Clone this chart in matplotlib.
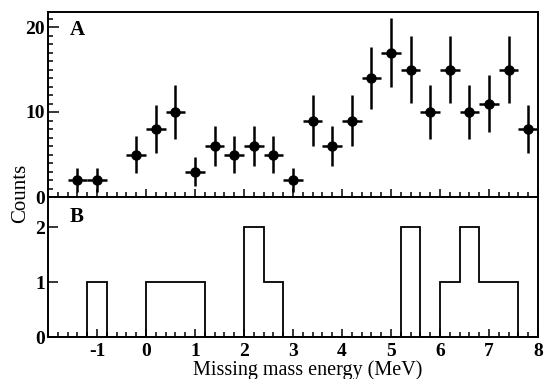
import numpy as np
import matplotlib
matplotlib.use("Agg")
import matplotlib.pyplot as plt
from matplotlib.ticker import MultipleLocator, FixedLocator

plt.rcParams['font.family'] = ['Liberation Serif', 'DejaVu Serif']
plt.rcParams['axes.unicode_minus'] = False

# パネルA: 0.4 MeV ビンごとのカウントと誤差
energy_a = [-1.4, -1.0, -0.2, 0.2, 0.6, 1.0, 1.4, 1.8, 2.2, 2.6, 3.0, 3.4,
            3.8, 4.2, 4.6, 5.0, 5.4, 5.8, 6.2, 6.6, 7.0, 7.4, 7.8]
counts_a = [2, 2, 5, 8, 10, 3, 6, 5, 6, 5, 2, 9,
            6, 9, 14, 17, 15, 10, 15, 10, 11, 15, 8]
err_a = [1.4, 1.4, 2.2, 2.8, 3.2, 1.7, 2.4, 2.2, 2.4, 2.2, 1.4, 3.0,
         2.4, 3.0, 3.7, 4.1, 3.9, 3.2, 3.9, 3.2, 3.3, 3.9, 2.8]
bin_half = 0.2

# パネルB: ヒストグラム (ビン端とカウント)
edges_b = [-2.0, -1.6, -1.2, -0.8, -0.4, 0.0, 0.4, 0.8, 1.2, 1.6, 2.0, 2.4, 2.8,
           3.2, 3.6, 4.0, 4.4, 4.8, 5.2, 5.6, 6.0, 6.4, 6.8, 7.2, 7.6, 8.0]
counts_b = [0, 0, 1, 0, 0, 1, 1, 1, 0, 0, 2, 1, 0,
            0, 0, 0, 0, 0, 2, 0, 1, 2, 1, 1, 0]

xticks = [-1, 0, 1, 2, 3, 4, 5, 6, 7, 8]

W, H = 544, 379
fig = plt.figure(figsize=(W / 100, H / 100), dpi=100)

left, right = 48 / W, 538 / W
ya_top, y_mid, yb_bot = 1 - 11.7 / H, 1 - 197 / H, 1 - 337 / H

ax1 = fig.add_axes([left, y_mid, right - left, ya_top - y_mid])
ax2 = fig.add_axes([left, yb_bot, right - left, y_mid - yb_bot], sharex=ax1)

# --- A ---
ax1.errorbar(energy_a, counts_a, yerr=err_a, xerr=bin_half, fmt='o',
             color='black', ms=6.5, elinewidth=1.8, capsize=0)
ax1.set_ylim(0, 21.8)
ax1.yaxis.set_major_locator(FixedLocator([0, 10, 20]))
ax1.yaxis.set_minor_locator(MultipleLocator(1))
ax1.text(0.045, 0.955, 'A', transform=ax1.transAxes, fontsize=15,
         fontweight='bold', va='top', ha='left')

# --- B ---
ax2.stairs(counts_b, edges_b, color='black', lw=1.3)
ax2.set_ylim(0, 2.55)
ax2.yaxis.set_major_locator(FixedLocator([0, 1, 2]))
ax2.text(0.045, 0.93, 'B', transform=ax2.transAxes, fontsize=15,
         fontweight='bold', va='top', ha='left')

ax2.set_xlim(-2, 8)
ax2.xaxis.set_major_locator(FixedLocator(xticks))
ax2.xaxis.set_minor_locator(MultipleLocator(0.2))

for ax in (ax1, ax2):
    for s in ax.spines.values():
        s.set_linewidth(1.4)
    ax.tick_params(which='both', direction='in', top=False, right=False,
                   width=1.1, labelsize=14)
    ax.tick_params(which='major', length=6, pad=2)
    ax.tick_params(which='minor', length=3.5)
    for lab in ax.get_yticklabels() + ax.get_xticklabels():
        lab.set_fontweight('bold')

ax1.tick_params(axis='x', labelbottom=False)
ax1.tick_params(axis='y', which='major', length=8)
ax2.tick_params(axis='y', which='major', length=7)
ax2.tick_params(axis='x', which='major', pad=4)

ax2.set_xlabel('Missing mass energy (MeV)', fontsize=14.5, labelpad=0)
ax2.xaxis.set_label_coords(0.53, -0.165)
fig.text(0.038, 1 - 193 / H, 'Counts', rotation=90, fontsize=15,
         ha='center', va='center')

plt.savefig('out.png', dpi=100)
